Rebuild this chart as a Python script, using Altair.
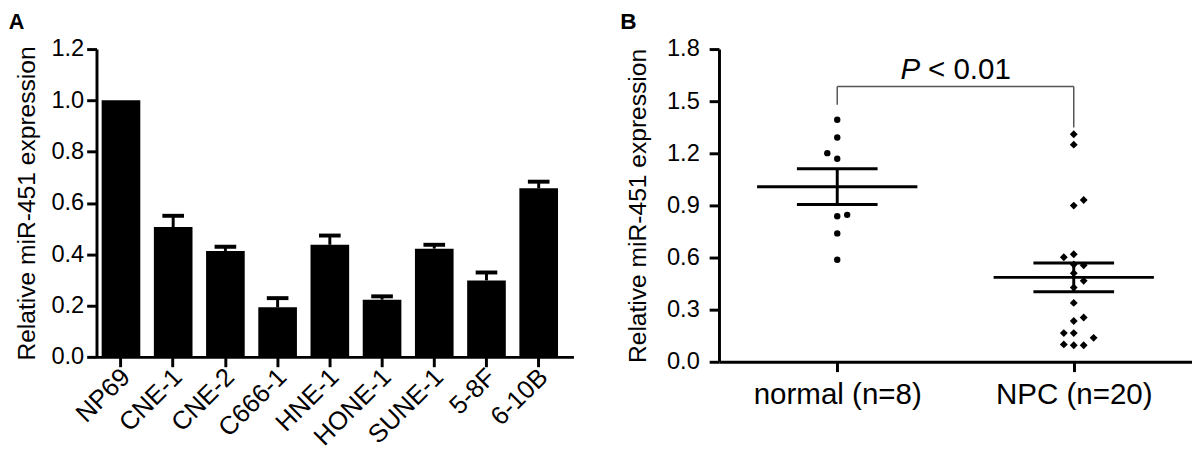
import altair as alt
import pandas as pd

FONT = "Liberation Sans"

# ---------------- Panel A data ----------------
cell_lines = ["NP69", "CNE-1", "CNE-2", "C666-1", "HNE-1", "HONE-1", "SUNE-1", "5-8F", "6-10B"]
expr_mean = [1.000, 0.506, 0.413, 0.193, 0.437, 0.223, 0.422, 0.298, 0.657]
expr_err = [0.000, 0.044, 0.016, 0.036, 0.036, 0.013, 0.015, 0.031, 0.026]
ticks_a = [0.0, 0.2, 0.4, 0.6, 0.8, 1.0, 1.2]

# ---------------- Panel B data ----------------
groups = ["normal (n=8)", "NPC (n=20)"]
normal_vals = [1.393, 1.291, 1.201, 1.169, 0.838, 0.846, 0.739, 0.587]
normal_slot = [0, 0, -1, 0, 0, 1, 0, 0]
npc_vals = [1.310, 1.250, 0.899, 0.931, 0.602, 0.619, 0.555, 0.466, 0.427, 0.339,
            0.235, 0.255, 0.165, 0.165, 0.138, 0.100, 0.095, 0.095, 0.510, 0.560]
npc_slot = [0, 0, 0, 1, -1, 0, 1, 1, 0, 0,
            0, 1, -1, 0, 2, -1, 0, 1, 0, 0]
ticks_b = [0.0, 0.3, 0.6, 0.9, 1.2, 1.5, 1.8]
p_label_italic = "P"
p_label_rest = "< 0.01"
bracket_top = 1.584
bracket_left_bottom = 1.48
bracket_right_bottom = 1.349
p_label_y = 1.625
y_title = "Relative miR-451 expression"

# ---------------- Panel A ----------------
dfA = pd.DataFrame({"line": cell_lines, "expr": expr_mean, "err": expr_err})
dfA["hi"] = dfA["expr"] + dfA["err"]

xA_scale = alt.Scale(paddingInner=0.26, paddingOuter=0.197, align=0.25)
xA = alt.X("line:N", sort=cell_lines, scale=xA_scale,
           axis=alt.Axis(title=None, labelAngle=-45, labelFontSize=26,
                         labelPadding=6, labelOffset=5, tickSize=10, grid=False))
yA_scale = alt.Scale(domain=[0, 1.2], nice=False, zero=True)
yA = alt.Y("expr:Q", scale=yA_scale,
           axis=alt.Axis(values=ticks_a, format=".1f", title=y_title, grid=False,
                         labelFontSize=24, titleFontSize=25, tickSize=10,
                         labelPadding=3, titlePadding=12))

baseA = alt.Chart(dfA)
bars = baseA.mark_bar(color="black").encode(x=xA, y=yA)
stems = baseA.mark_rule(color="black", strokeWidth=3).encode(
    x=alt.X("line:N", sort=cell_lines, scale=xA_scale),
    y=alt.Y("expr:Q", scale=yA_scale), y2="hi:Q")
caps = baseA.transform_filter("datum.err > 0").mark_tick(
    color="black", size=22, thickness=4, orient="horizontal", opacity=1).encode(
    x=alt.X("line:N", sort=cell_lines, scale=xA_scale),
    y=alt.Y("hi:Q", scale=yA_scale))

panelA = alt.layer(stems, bars, caps).properties(
    width=485, height=313,
    title=alt.TitleParams("A", anchor="start", frame="bounds", fontSize=22,
                          fontWeight="bold", font=FONT, color="black",
                          offset=-3, dx=-6, dy=-6))

# ---------------- Panel B ----------------
dfB = pd.DataFrame({
    "group": [groups[0]] * len(normal_vals) + [groups[1]] * len(npc_vals),
    "value": normal_vals + npc_vals,
    "slot": normal_slot + npc_slot,
})
dfB["pos"] = dfB["group"].map({g: i + 0.5 for i, g in enumerate(groups)})

xB_scale = alt.Scale(domain=[0, 2], nice=False, zero=False)
yB_scale = alt.Scale(domain=[0, 1.8], nice=False, zero=True)
label_expr = "datum.value < 1 ? '%s' : '%s'" % (groups[0], groups[1])

xB_axis = alt.Axis(values=[0.5, 1.5], labelExpr=label_expr, title=None,
                   labelFontSize=30, labelPadding=8, tickSize=10, grid=False)
yB_axis = alt.Axis(values=ticks_b, format=".1f", title=y_title, grid=False,
                   labelFontSize=24, titleFontSize=25, tickSize=10,
                   labelPadding=10, titlePadding=16)

baseB = alt.Chart(dfB)
points = baseB.transform_calculate(xj="datum.pos + datum.slot * 0.042").mark_point(
    filled=True, opacity=1, color="black").encode(
    x=alt.X("xj:Q", scale=xB_scale, axis=xB_axis),
    y=alt.Y("value:Q", scale=yB_scale, axis=yB_axis),
    shape=alt.Shape("group:N", scale=alt.Scale(domain=groups, range=["circle", "diamond"]), legend=None),
    size=alt.Size("group:N", scale=alt.Scale(domain=groups, range=[42, 64]), legend=None),
)

stats = baseB.transform_aggregate(
    mean="mean(value)", sem="stderr(value)", groupby=["group", "pos"]
).transform_calculate(lo="datum.mean - datum.sem", hi="datum.mean + datum.sem")

xpos = alt.X("pos:Q", scale=xB_scale)
mean_line = stats.mark_tick(orient="horizontal", size=163, thickness=3, color="black", opacity=1).encode(
    x=xpos, y=alt.Y("mean:Q", scale=yB_scale))
sem_lo = stats.mark_tick(orient="horizontal", size=82, thickness=3, color="black", opacity=1).encode(
    x=xpos, y=alt.Y("lo:Q", scale=yB_scale))
sem_hi = stats.mark_tick(orient="horizontal", size=82, thickness=3, color="black", opacity=1).encode(
    x=xpos, y=alt.Y("hi:Q", scale=yB_scale))
sem_v = stats.mark_rule(strokeWidth=3, color="black").encode(
    x=xpos, y=alt.Y("lo:Q", scale=yB_scale), y2="hi:Q")

bracket_df = pd.DataFrame({
    "x": [0.5, 0.5, 1.5],
    "x2": [1.5, 0.5, 1.5],
    "y": [bracket_top, bracket_left_bottom, bracket_right_bottom],
    "y2": [bracket_top, bracket_top, bracket_top],
})
bracket = alt.Chart(bracket_df).mark_rule(color="#555555", strokeWidth=1.5).encode(
    x=alt.X("x:Q", scale=xB_scale), x2="x2:Q",
    y=alt.Y("y:Q", scale=yB_scale), y2="y2:Q")

label_df = pd.DataFrame({"x": [sum(i + 0.5 for i in range(len(groups))) / len(groups)],
                         "y": [p_label_y]})
p_italic = alt.Chart(label_df).mark_text(
    text=p_label_italic, font=FONT, fontSize=30, fontStyle="italic",
    align="right", baseline="alphabetic", dx=-36, color="black").encode(
    x=alt.X("x:Q", scale=xB_scale), y=alt.Y("y:Q", scale=yB_scale))
p_rest = alt.Chart(label_df).mark_text(
    text=p_label_rest, font=FONT, fontSize=30,
    align="left", baseline="alphabetic", dx=-28, color="black").encode(
    x=alt.X("x:Q", scale=xB_scale), y=alt.Y("y:Q", scale=yB_scale))

panelB = alt.layer(points, bracket, mean_line, sem_lo, sem_hi, sem_v, p_italic, p_rest).properties(
    width=481, height=318,
    title=alt.TitleParams("B", anchor="start", frame="bounds", fontSize=23,
                          fontWeight="bold", font=FONT, color="black",
                          offset=-3, dx=-6, dy=-6))

chart = alt.hconcat(panelA, panelB, spacing=47).properties(
    padding={"left": 0, "top": 0, "right": 0, "bottom": 0},
    background="white"
).configure_view(stroke=None).configure_axis(
    domainColor="black", domainWidth=3, tickColor="black", tickWidth=3,
    labelColor="black", titleColor="black", labelFont=FONT, titleFont=FONT,
    titleFontWeight="normal", grid=False
)

chart.save("out.html", embed_options={"renderer": "svg", "actions": False})
